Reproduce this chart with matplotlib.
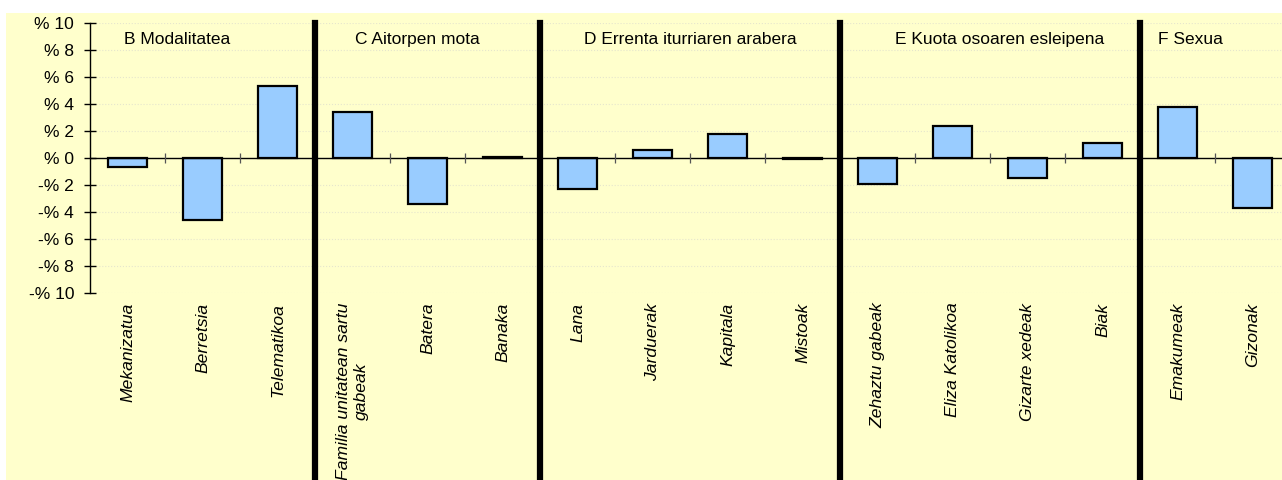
import matplotlib.pyplot as plt
from matplotlib.patches import Rectangle

plt.rcParams['font.family'] = ['Liberation Sans', 'DejaVu Sans']

categories = ['Mekanizatua', 'Berretsia', 'Telematikoa',
              'Familia unitatean sartu\ngabeak', 'Batera', 'Banaka',
              'Lana', 'Jarduerak', 'Kapitala', 'Mistoak',
              'Zehaztu gabeak', 'Eliza Katolikoa', 'Gizarte xedeak', 'Biak',
              'Emakumeak', 'Gizonak']
values = [-0.7, -4.6, 5.3,
          3.4, -3.4, 0.05,
          -2.3, 0.6, 1.8, -0.05,
          -1.9, 2.4, -1.5, 1.1,
          3.8, -3.7]
group_names = ['B Modalitatea', 'C Aitorpen mota', 'D Errenta iturriaren arabera',
               'E Kuota osoaren esleipena', 'F Sexua']
group_sizes = [3, 3, 4, 4, 2]

yellow = '#FFFFCC'

fig = plt.figure(figsize=(12.82, 4.8), dpi=100)
fig.patch.set_facecolor('white')
fig.patches.append(Rectangle((6 / 1282, 0), 1, 1 - 13 / 480, transform=fig.transFigure,
                             facecolor=yellow, edgecolor='none', zorder=-10))

ax = fig.add_axes([90 / 1282, 187 / 480, 1200 / 1282, 270 / 480])
ax.set_facecolor(yellow)
ax.patch.set_alpha(0)

x = list(range(len(categories)))
ax.bar(x, values, width=0.52, color='#99CCFF', edgecolor='black', linewidth=1.6, zorder=3)

ax.set_xlim(-0.5, len(categories) - 0.5)
ax.set_ylim(-10, 10)
yt = list(range(-10, 11, 2))
ax.set_yticks(yt)
ax.set_yticklabels([('-% ' if v < 0 else '% ') + str(abs(v)) for v in yt], fontsize=12.5)
ax.tick_params(axis='y', direction='inout', length=9, width=1, pad=7)
ax.grid(axis='y', color='#E6E6CC', linestyle=':', linewidth=0.8, zorder=0)

ax.set_xticks(x)
ax.set_xticklabels(categories, rotation=90, fontsize=12.6, style='italic',
                   va='top', ha='center', multialignment='center')
ax.tick_params(axis='x', length=0, pad=7)

for s in ['top', 'right', 'bottom']:
    ax.spines[s].set_visible(False)
ax.spines['left'].set_linewidth(1)

ax.axhline(0, color='black', linewidth=1, zorder=4)
ax.vlines([k + 0.5 for k in range(len(categories) - 1)], -0.38, 0.38,
          color='#555555', linewidth=0.9, zorder=4)

# group separators and titles
title_x = [0.66, 3.87, 7.5, 11.63, 14.17]
start = 0
for i, (name, n) in enumerate(zip(group_names, group_sizes)):
    if i > 0:
        ax.axvline(start - 0.5, ymin=-0.71, ymax=1, color='black', linewidth=4.5,
                   clip_on=False, zorder=5)
    ax.text(title_x[i], 8.8, name, ha='center', va='center', fontsize=12.5)
    start += n

fig.savefig('out.png', dpi=100)
